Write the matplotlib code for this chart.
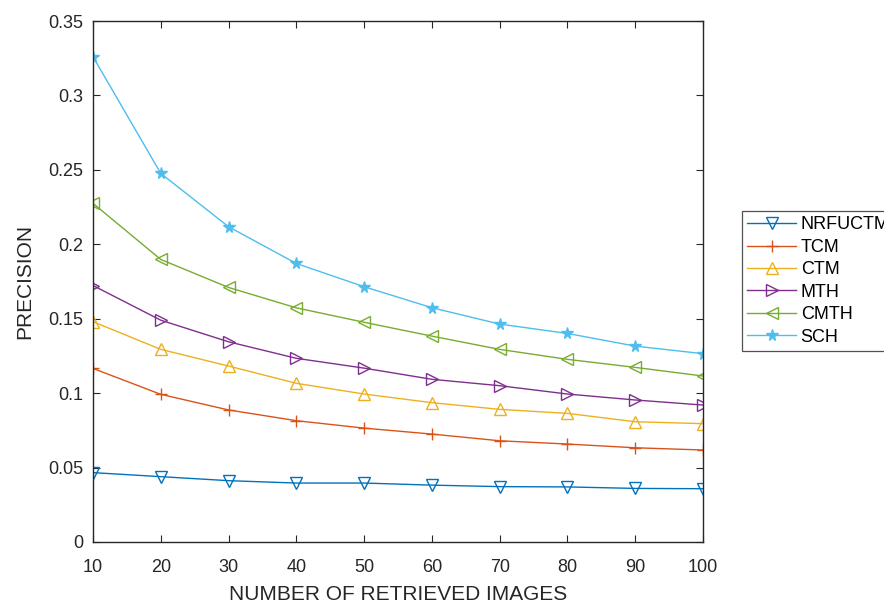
import matplotlib
matplotlib.use("Agg")
import matplotlib.pyplot as plt

plt.rcParams["font.family"] = ["Liberation Sans", "DejaVu Sans"]

# ---- data ------------------------------------------------------------------
retrieved = [10, 20, 30, 40, 50, 60, 70, 80, 90, 100]
nrfuctm = [0.0466, 0.0439, 0.0412, 0.0396, 0.0396, 0.0382, 0.0372, 0.0370, 0.0360, 0.0358]
tcm = [0.1166, 0.0992, 0.0887, 0.0815, 0.0765, 0.0725, 0.0680, 0.0658, 0.0633, 0.0618]
ctm = [0.1480, 0.1294, 0.1182, 0.1066, 0.0994, 0.0936, 0.0891, 0.0864, 0.0808, 0.0795]
mth = [0.1723, 0.1490, 0.1345, 0.1234, 0.1168, 0.1093, 0.1050, 0.0994, 0.0954, 0.0920]
cmth = [0.2275, 0.1898, 0.1710, 0.1573, 0.1476, 0.1383, 0.1294, 0.1227, 0.1173, 0.1115]
sch = [0.3260, 0.2476, 0.2118, 0.1871, 0.1715, 0.1574, 0.1464, 0.1401, 0.1316, 0.1265]

names = ["NRFUCTM", "TCM", "CTM", "MTH", "CMTH", "SCH"]
series = [nrfuctm, tcm, ctm, mth, cmth, sch]

# MATLAB default line order
COLORS = ["#0072BD", "#D95319", "#EDB120", "#7E2F8E", "#77AC30", "#4DBEEE"]
MARKERS = ["v", "+", "^", ">", "<", "*"]
AXIS = "#262626"

fig = plt.figure(figsize=(8.84, 6.05), dpi=100)
fig.patch.set_facecolor("white")
ax = fig.add_axes([93 / 884, 1 - 542 / 605, 610 / 884, 521 / 605])

for name, ys, col, mk in zip(names, series, COLORS, MARKERS):
    filled = mk in ("+", "*")
    ax.plot(retrieved, ys, color=col, lw=1.0, marker=mk,
            markersize=8 if not filled else 8.5,
            markerfacecolor="none" if not filled else col,
            markeredgecolor=col, markeredgewidth=1.0, label=name)

ax.set_xlim(10, 100)
ax.set_ylim(0, 0.35)
ax.set_xticks(retrieved)
ax.set_yticks([0, 0.05, 0.1, 0.15, 0.2, 0.25, 0.3, 0.35])
ax.set_yticklabels(["0", "0.05", "0.1", "0.15", "0.2", "0.25", "0.3", "0.35"])
ax.tick_params(direction="in", length=5, width=0.8, colors=AXIS,
               labelcolor=AXIS, labelsize=13, top=True, right=True)
ax.tick_params(axis="x", pad=12)
ax.tick_params(axis="y", pad=7)
for s in ax.spines.values():
    s.set_color(AXIS)
    s.set_linewidth(1.0)

ax.set_xlabel("NUMBER OF RETRIEVED IMAGES", fontsize=15, color=AXIS, labelpad=7)
ax.set_ylabel("PRECISION", fontsize=15, color=AXIS, labelpad=10)

# legend sits outside the axes and runs off the right edge, as in the reference
leg = fig.legend(loc="upper left", bbox_to_anchor=(742 / 884, 1 - 211 / 605),
                 fontsize=13, frameon=True, fancybox=False, handlelength=2.7,
                 handletextpad=0.25, borderaxespad=0, labelspacing=0.3,
                 borderpad=0.3)
leg.get_frame().set_edgecolor(AXIS)
leg.get_frame().set_linewidth(0.9)

fig.savefig("out.png", dpi=100, facecolor="white")
